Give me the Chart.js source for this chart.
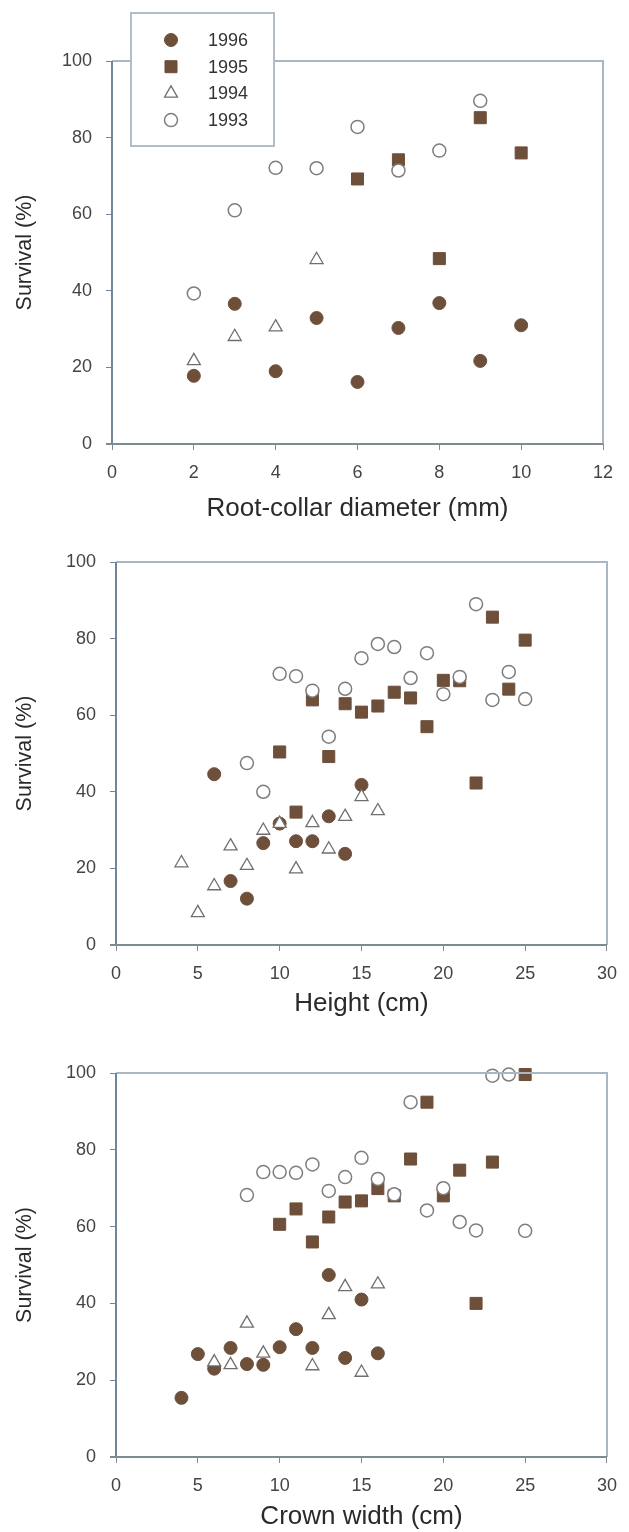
<!DOCTYPE html>
<html>
<head>
<meta charset="utf-8">
<script src="https://cdn.jsdelivr.net/npm/chart.js@4.4.1/dist/chart.umd.min.js"></script>
<style>
    body { margin: 0; background: #fff; }
    .panel { position: absolute; left: 0; width: 629px; }
</style>
</head>
<body>
<div class="panel" style="top:0px"><canvas id="diameterChart" width="629" height="530"></canvas></div>
<div class="panel" style="top:530px"><canvas id="heightChart" width="629" height="500"></canvas></div>
<div class="panel" style="top:1030px"><canvas id="crownChart" width="629" height="502"></canvas></div>
<script>
// ROOT-COLLAR DIAMETER
const diam1996X = [2, 3, 4, 5, 6, 7, 8, 9, 10];
const diam1996Y = [17.8, 36.6, 19, 32.9, 16.2, 30.3, 36.8, 21.7, 31];
const diam1995X = [6, 7, 8, 9, 10];
const diam1995Y = [69.2, 74.2, 48.4, 85.2, 76];
const diam1994X = [2, 3, 4, 5];
const diam1994Y = [21.7, 28, 30.5, 48.1];
const diam1993X = [2, 3, 4, 5, 6, 7, 8, 9];
const diam1993Y = [39.3, 61, 72.1, 72, 82.8, 71.4, 76.6, 89.6];

// HEIGHT
const height1996X = [6, 7, 8, 9, 10, 11, 12, 13, 14, 15];
const height1996Y = [44.6, 16.7, 12.1, 26.6, 31.7, 27.1, 27.1, 33.6, 23.8, 41.8];
const height1995X = [10, 11, 12, 13, 14, 15, 16, 17, 18, 19, 20, 21, 22, 23, 24, 25];
const height1995Y = [50.4, 34.7, 64, 49.2, 63, 60.8, 62.4, 66, 64.5, 57, 69.1, 69, 42.3, 85.6, 66.8, 79.6];
const height1994X = [4, 5, 6, 7, 8, 9, 10, 11, 12, 13, 14, 15, 16];
const height1994Y = [21.4, 8.4, 15.4, 25.8, 20.7, 29.9, 31.7, 19.8, 31.9, 25, 33.5, 38.7, 35];
const height1993X = [8, 9, 10, 11, 12, 13, 14, 15, 16, 17, 18, 19, 20, 21, 22, 23, 24, 25];
const height1993Y = [47.5, 40, 70.8, 70.2, 66.4, 54.4, 66.9, 74.9, 78.6, 77.8, 69.7, 76.2, 65.5, 70, 89, 64, 71.3, 64.2];

// CROWN WIDTH
const crown1996X = [4, 5, 6, 7, 8, 9, 10, 11, 12, 13, 14, 15, 16];
const crown1996Y = [15.4, 26.8, 23, 28.4, 24.2, 24, 28.6, 33.3, 28.4, 47.4, 25.8, 41, 27];
const crown1995X = [10, 11, 12, 13, 14, 15, 16, 17, 18, 19, 20, 21, 22, 23, 25];
const crown1995Y = [60.6, 64.6, 56, 62.5, 66.4, 66.7, 69.9, 68, 77.6, 92.4, 68, 74.7, 40, 76.8, 99.6];
const crown1994X = [6, 7, 8, 9, 12, 13, 14, 15, 16];
const crown1994Y = [24.7, 24, 34.8, 27, 23.7, 37, 44.3, 22, 45];
const crown1993X = [8, 9, 10, 11, 12, 13, 14, 15, 16, 17, 18, 19, 20, 21, 22, 23, 24, 25];
const crown1993Y = [68.2, 74.2, 74.2, 74, 76.2, 69.3, 72.9, 77.9, 72.4, 68.4, 92.4, 64.2, 70, 61.2, 59, 99.3, 99.6, 58.9];

const seriesLabels = ['1996', '1995', '1994', '1993'];

const FONT = 'Liberation Sans, Arial, Helvetica, sans-serif';
const BROWN = '#6d4f3a';

const styles = [
    { pointStyle: 'circle', pointRadius: 6.5, backgroundColor: BROWN, borderColor: BROWN, borderWidth: 1, order: 2 },
    { pointStyle: 'rect', pointRadius: 8.5, backgroundColor: BROWN, borderColor: BROWN, borderWidth: 1, order: 3 },
    { pointStyle: 'triangle', pointRadius: 7.5, backgroundColor: '#fff', borderColor: '#6f6f6f', borderWidth: 1.3, order: 1 },
    { pointStyle: 'circle', pointRadius: 6.5, backgroundColor: '#fff', borderColor: '#7d7d7d', borderWidth: 1.5, order: 0 }
];

function makeSeries(i, xs, ys) {
    return {
        label: seriesLabels[i],
        data: xs.map((x, k) => ({ x: x, y: ys[k] })),
        clip: false,
        ...styles[i]
    };
}

// frame round the plot area
const framePlugin = {
    id: 'frame',
    afterDatasetsDraw(chart) {
        const { ctx, chartArea: a } = chart;
        ctx.save();
        ctx.lineWidth = 2;
        ctx.strokeStyle = '#a9b7c5';
        ctx.beginPath();
        ctx.moveTo(a.left, a.top);
        ctx.lineTo(a.right, a.top);
        ctx.lineTo(a.right, a.bottom);
        ctx.stroke();
        ctx.strokeStyle = '#71859a';
        ctx.beginPath();
        ctx.moveTo(a.left, a.top);
        ctx.lineTo(a.left, a.bottom);
        ctx.stroke();
        ctx.strokeStyle = '#7f8c8f';
        ctx.beginPath();
        ctx.moveTo(a.left - 6, a.bottom);
        ctx.lineTo(a.right, a.bottom);
        ctx.stroke();
        ctx.restore();
    }
};

// legend box drawn over the top left corner
const boxLegendPlugin = {
    id: 'boxLegend',
    afterDraw(chart, args, opts) {
        if (!opts.show) return;
        const ctx = chart.ctx;
        ctx.save();
        ctx.fillStyle = '#fff';
        ctx.fillRect(131, 13, 143, 133);
        ctx.lineWidth = 2;
        ctx.strokeStyle = '#b3bdc7';
        ctx.strokeRect(131, 13, 143, 133);
        chart.data.datasets.forEach((ds, i) => {
            const y = 40 + i * 26.7;
            ctx.fillStyle = ds.backgroundColor;
            ctx.strokeStyle = ds.borderColor;
            ctx.lineWidth = ds.borderWidth;
            Chart.helpers.drawPoint(ctx, { pointStyle: ds.pointStyle, radius: ds.pointRadius, rotation: 0, borderWidth: ds.borderWidth }, 171, y);
            ctx.fillStyle = '#333';
            ctx.font = `18px ${FONT}`;
            ctx.textBaseline = 'middle';
            ctx.fillText(ds.label, 208, y + 1);
        });
        ctx.restore();
    }
};

function makeChart(id, datasets, xMax, xStep, xTitle, box) {
    const ctx = document.getElementById(id).getContext('2d');
    return new Chart(ctx, {
        type: 'scatter',
        data: { datasets: datasets },
        plugins: [framePlugin, boxLegendPlugin],
        options: {
            responsive: false,
            animation: false,
            layout: { padding: { top: box.top, right: box.right, left: 0, bottom: 0 } },
            plugins: {
                legend: { display: false },
                tooltip: { enabled: false },
                boxLegend: { show: box.legend }
            },
            scales: {
                x: {
                    type: 'linear',
                    min: 0,
                    max: xMax,
                    ticks: { stepSize: xStep, color: '#444', font: { family: FONT, size: 18 }, padding: 12 },
                    grid: { drawOnChartArea: false, drawTicks: true, tickLength: 6, tickColor: '#7f8c8f' },
                    border: { display: false },
                    title: { display: true, text: xTitle, color: '#2a2a2a', font: { family: FONT, size: 26 }, padding: { top: 0, bottom: box.titlePad } },
                    afterFit: (s) => { s.height = box.xHeight; }
                },
                y: {
                    min: 0,
                    max: 100,
                    ticks: { stepSize: 20, color: '#444', font: { family: FONT, size: 18 }, padding: 14 },
                    grid: { drawOnChartArea: false, drawTicks: true, tickLength: 6, tickColor: '#71859a' },
                    border: { display: false },
                    title: { display: true, text: 'Survival (%)', color: '#2a2a2a', font: { family: FONT, size: 21.5 }, padding: { top: 12, bottom: 0 } },
                    afterFit: (s) => { s.width = box.yWidth; }
                }
            }
        }
    });
}

makeChart('diameterChart', [
    makeSeries(0, diam1996X, diam1996Y),
    makeSeries(1, diam1995X, diam1995Y),
    makeSeries(2, diam1994X, diam1994Y),
    makeSeries(3, diam1993X, diam1993Y)
], 12, 2, 'Root-collar diameter (mm)', { top: 61, right: 26, yWidth: 112, xHeight: 86, titlePad: 6, legend: true });

makeChart('heightChart', [
    makeSeries(0, height1996X, height1996Y),
    makeSeries(1, height1995X, height1995Y),
    makeSeries(2, height1994X, height1994Y),
    makeSeries(3, height1993X, height1993Y)
], 30, 5, 'Height (cm)', { top: 32, right: 22, yWidth: 116, xHeight: 85, titlePad: 11, legend: false });

makeChart('crownChart', [
    makeSeries(0, crown1996X, crown1996Y),
    makeSeries(1, crown1995X, crown1995Y),
    makeSeries(2, crown1994X, crown1994Y),
    makeSeries(3, crown1993X, crown1993Y)
], 30, 5, 'Crown width (cm)', { top: 43, right: 22, yWidth: 116, xHeight: 75, titlePad: 0, legend: false });
</script>
</body>
</html>
